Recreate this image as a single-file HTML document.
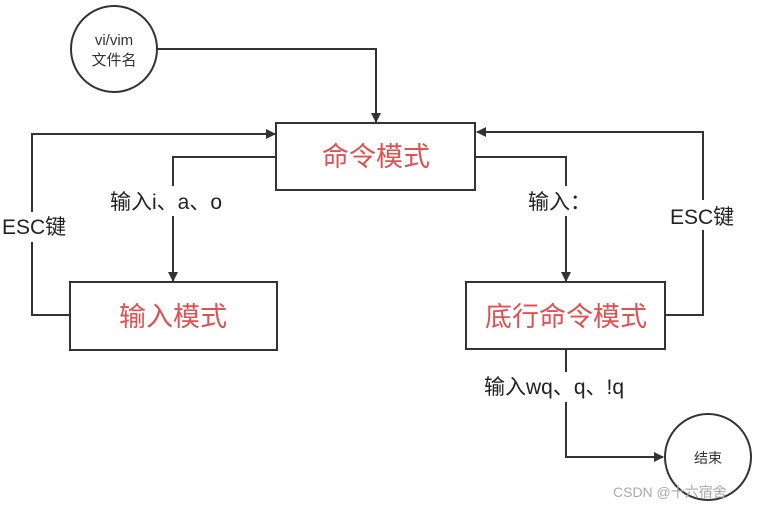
<!DOCTYPE html>
<html><head><meta charset="utf-8"><style>
body{margin:0;background:#fff;}
svg text{font-family:"Liberation Sans","Noto Sans CJK SC",sans-serif;}
</style></head><body>
<svg width="765" height="508" viewBox="0 0 765 508" xmlns="http://www.w3.org/2000/svg">
<defs><marker id="a" markerWidth="10" markerHeight="10" refX="9" refY="5" orient="auto" markerUnits="userSpaceOnUse"><path d="M0,0 L10,5 L0,10 z" fill="#333"/></marker></defs>
<g stroke="#333" stroke-width="2" fill="none">
<circle cx="114" cy="49" r="43"/>
<circle cx="708" cy="457" r="43"/>
<rect x="276" y="123" width="199" height="67"/>
<rect x="70" y="282" width="207" height="68"/>
<rect x="466" y="282" width="199" height="67"/>
<path d="M158,49 H376 V122" marker-end="url(#a)"/>
<path d="M70,315 H32 V134 H275" marker-end="url(#a)"/>
<path d="M276,157 H173 V281" marker-end="url(#a)"/>
<path d="M476,157 H566 V281" marker-end="url(#a)"/>
<path d="M665,315 H703 V132 H477" marker-end="url(#a)"/>
<path d="M566,349 V457 H663" marker-end="url(#a)"/>
</g>
<g fill="#fff">
<rect x="108" y="186" width="134" height="30"/>
<rect x="524" y="186" width="76" height="30"/>
<rect x="2" y="212" width="68" height="30"/>
<rect x="668" y="200" width="72" height="30"/>
<rect x="480" y="372" width="174" height="30"/>
</g>
<g fill="#222" font-size="21">
<text x="110" y="209">输入i、a、o</text>
<text x="528" y="209">输入：</text>
<text x="2" y="234">ESC键</text>
<text x="670" y="224">ESC键</text>
<text x="484" y="394">输入wq、q、!q</text>
</g>
<g fill="#333" font-size="15" text-anchor="middle">
<text x="114" y="45">vi/vim</text>
<text x="114" y="65">文件名</text>
<text x="708" y="463" font-size="14">结束</text>
</g>
<g fill="#e05252" font-size="27" text-anchor="middle">
<text x="376" y="166">命令模式</text>
<text x="173" y="326">输入模式</text>
<text x="566" y="326">底行命令模式</text>
</g>
<text x="613" y="497" fill="#aaa" font-size="14">CSDN @十六宿舍</text>
</svg>
</body></html>
